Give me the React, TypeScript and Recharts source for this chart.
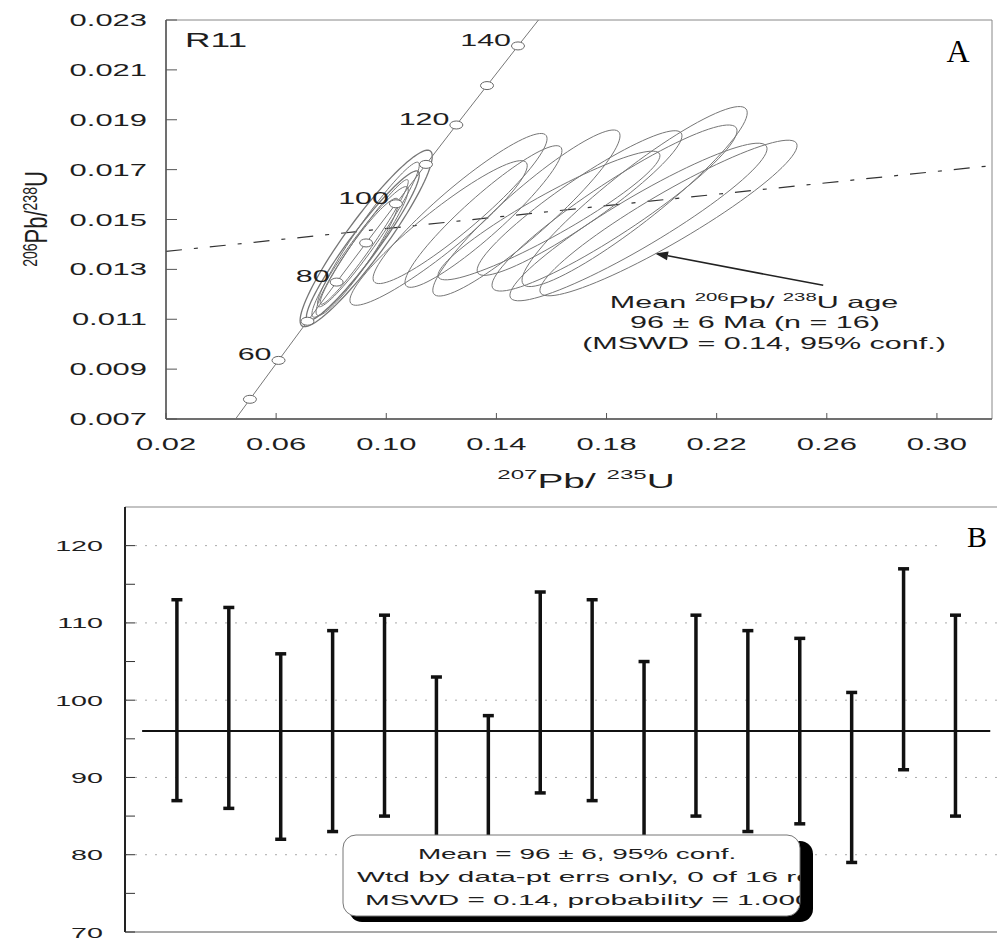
import React from 'react';
import { ScatterChart, Scatter, XAxis, YAxis, ReferenceLine, ReferenceArea, ErrorBar } from 'recharts';

const SANS = '"Liberation Sans", Arial, Helvetica, sans-serif';
const SERIF = '"Liberation Serif", "Times New Roman", serif';
const INK = '#1e1e1e';

// ---- panel A : concordia diagram ----
// concordia points (age in Ma, 207Pb/235U, 206Pb/238U)
const concordiaAges = [45, 50, 60, 70, 80, 90, 100, 110, 120, 130, 140, 147];
const concordiaX = [0.04532, 0.05048, 0.06087, 0.07137, 0.08198, 0.09268, 0.1035, 0.11442, 0.12545, 0.13659, 0.14784, 0.15578];
const concordiaY = [0.00701, 0.00779, 0.00935, 0.01092, 0.01249, 0.01406, 0.01563, 0.01721, 0.01879, 0.02037, 0.02196, 0.02307];
const labelledAges = [60, 80, 100, 120, 140];

// error ellipses: centre, half widths (2 sigma) and correlation
const ellX = [0.0927, 0.0915, 0.0905, 0.0935, 0.0895, 0.092, 0.119, 0.1268, 0.1353, 0.1509, 0.1591, 0.1702, 0.1829, 0.1902, 0.1916, 0.2025];
const ellY = [0.01424, 0.01395, 0.0137, 0.0144, 0.0135, 0.0141, 0.01446, 0.01544, 0.01512, 0.01526, 0.01516, 0.01566, 0.01546, 0.01592, 0.0149, 0.01506];
const ellSX = [0.024, 0.0205, 0.0175, 0.0185, 0.015, 0.016, 0.0322, 0.0316, 0.0285, 0.034, 0.0403, 0.0372, 0.0445, 0.0409, 0.0467, 0.0467];
const ellSY = [0.00354, 0.003, 0.00262, 0.0029, 0.00235, 0.0025, 0.0029, 0.00301, 0.00284, 0.00333, 0.00258, 0.0029, 0.00333, 0.00361, 0.00316, 0.00312];
const ellRho = [0.93, 0.95, 0.95, 0.96, 0.94, 0.97, 0.93, 0.93, 0.93, 0.93, 0.93, 0.93, 0.93, 0.93, 0.93, 0.93];

const mixLineX = [0.02, 0.32];
const mixLineY = [0.01372, 0.01716];
const arrowX = [0.2587, 0.1976];
const arrowY = [0.01236, 0.01364];

const xTicksA = [0.02, 0.06, 0.1, 0.14, 0.18, 0.22, 0.26, 0.3];
const yTicksA = [0.007, 0.009, 0.011, 0.013, 0.015, 0.017, 0.019, 0.021, 0.023];

// ---- panel B : weighted mean ----
const spotNo = [1, 2, 3, 4, 5, 6, 7, 8, 9, 10, 11, 12, 13, 14, 15, 16];
const spotAge = [100, 99, 94, 96, 98, 90.5, 86.5, 101, 100, 93, 98, 96, 96, 90, 104, 98];
const spotErr = [13, 13, 12, 13, 13, 12.5, 11.5, 13, 13, 12, 13, 13, 12, 11, 13, 13];
const meanAge = 96;
const meanLineX = [0.33, 16.67];
const yTicksB = [70, 75, 80, 85, 90, 95, 100, 105, 110, 115, 120];
const gridB = [80, 90, 100, 110, 120];

const concordiaLine = concordiaAges.map((t, i) => ({ x: concordiaX[i], y: concordiaY[i] }));
const markers = concordiaAges
  .map((t, i) => ({ x: concordiaX[i], y: concordiaY[i], label: labelledAges.includes(t) ? String(t) : '', t }))
  .filter((d) => d.t >= 50 && d.t <= 140);

const outline = (i: number) => {
  const pts = [];
  const r = Math.sqrt(1 - ellRho[i] * ellRho[i]);
  for (let k = 0; k <= 90; k++) {
    const a = (k / 90) * Math.PI * 2;
    pts.push({
      x: ellX[i] + ellSX[i] * Math.cos(a),
      y: ellY[i] + ellSY[i] * (ellRho[i] * Math.cos(a) + r * Math.sin(a)),
    });
  }
  return pts;
};

const spots = spotNo.map((n, i) => ({ x: n, y: spotAge[i], err: spotErr[i] }));

const NoDot = () => <g />;

const Marker = (p: any) => (
  <g>
    <ellipse cx={p.cx} cy={p.cy} rx={6.5} ry={4} fill="#fff" stroke="#666" strokeWidth={1} />
    {p.payload.label ? (
      <text transform={`translate(${p.cx - 7},${p.cy}) scale(1.9,1)`} textAnchor="end" fontSize={16} fontFamily={SANS} fill={INK}>
        {p.payload.label}
      </text>
    ) : null}
  </g>
);

const TickAY = (p: any) => (
  <text transform={`translate(${p.x},${p.y + 6}) scale(1.82,1)`} textAnchor="end" fontSize={17} fontFamily={SANS} fill={INK}>
    {Number(p.payload.value).toFixed(3)}
  </text>
);

const TickAX = (p: any) => (
  <text transform={`translate(${p.x},${p.y}) scale(1.82,1)`} textAnchor="middle" fontSize={17} fontFamily={SANS} fill={INK}>
    {Number(p.payload.value).toFixed(2)}
  </text>
);

const TickB = (p: any) =>
  p.payload.value % 10 === 0 ? (
    <text transform={`translate(${p.x},${p.y + 5.5}) scale(1.85,1)`} textAnchor="end" fontSize={15.5} fontFamily={SANS} fill={INK}>
      {p.payload.value}
    </text>
  ) : (
    <g />
  );

const Arrow = (p: any) => {
  const { x1, y1, x2, y2 } = p;
  const ang = Math.atan2(y2 - y1, x2 - x1);
  const L = 13;
  const W = 4.5;
  const bx = x2 - L * Math.cos(ang);
  const by = y2 - L * Math.sin(ang);
  const nx = -Math.sin(ang) * W;
  const ny = Math.cos(ang) * W;
  return (
    <g>
      <line x1={x1} y1={y1} x2={bx} y2={by} stroke="#222" strokeWidth={1.6} />
      <polygon points={`${x2},${y2} ${bx + nx},${by + ny} ${bx - nx},${by - ny}`} fill="#222" />
    </g>
  );
};

function Wide({ x, y, size, anchor = 'middle', sx = 1.85, children }: any) {
  return (
    <text transform={`translate(${x},${y}) scale(${sx},1)`} textAnchor={anchor} fontSize={size} fontFamily={SANS} fill={INK}>
      {children}
    </text>
  );
}

export default function App() {
  return (
    <div style={{ position: 'absolute', left: 0, top: 0, width: 997, height: 941, background: '#fff', overflow: 'hidden' }}>
      <div style={{ position: 'absolute', left: 0, top: 0 }}>
        <ScatterChart width={997} height={500} margin={{ top: 20, right: 5, bottom: 0, left: 0 }}>
          <XAxis
            type="number"
            dataKey="x"
            domain={[0.02, 0.32]}
            allowDataOverflow
            ticks={xTicksA}
            interval={0}
            height={81}
            tickSize={-6}
            tickMargin={37}
            tick={TickAX}
            tickLine={{ stroke: '#555' }}
            axisLine={{ stroke: '#555', strokeWidth: 1.5 }}
          />
          <YAxis
            type="number"
            dataKey="y"
            domain={[0.007, 0.023]}
            allowDataOverflow
            ticks={yTicksA}
            interval={0}
            width={166}
            tickSize={-11}
            tickMargin={30}
            tick={TickAY}
            tickLine={{ stroke: '#555' }}
            axisLine={{ stroke: '#555', strokeWidth: 1.5 }}
          />
          <ReferenceArea x1={0.02} x2={0.32} y1={0.007} y2={0.023} fill="none" fillOpacity={0} stroke="#888" strokeWidth={1} />
          {ellX.map((_, i) => (
            <Scatter
              key={i}
              data={outline(i)}
              fill="#767676"
              line={{ stroke: '#767676', strokeWidth: i < 2 ? 1.3 : 1 }}
              shape={NoDot}
              isAnimationActive={false}
            />
          ))}
          <ReferenceLine
            segment={[
              { x: mixLineX[0], y: mixLineY[0] },
              { x: mixLineX[1], y: mixLineY[1] },
            ]}
            stroke="#333"
            strokeWidth={1.2}
            strokeDasharray="16 12 4 12"
          />
          <ReferenceLine
            segment={[
              { x: arrowX[0], y: arrowY[0] },
              { x: arrowX[1], y: arrowY[1] },
            ]}
            shape={Arrow}
          />
          <Scatter data={concordiaLine} fill="#777" line={{ stroke: '#777', strokeWidth: 1 }} shape={NoDot} isAnimationActive={false} />
          <Scatter data={markers} fill="#fff" shape={Marker} isAnimationActive={false} />
        </ScatterChart>
      </div>

      <div style={{ position: 'absolute', left: 0, top: 500 }}>
        <ScatterChart width={997} height={441} margin={{ top: 7, right: 0, bottom: 0, left: 0 }}>
          <XAxis
            type="number"
            dataKey="x"
            domain={[0, 16.8]}
            allowDataOverflow
            tick={false}
            tickLine={false}
            height={9}
            axisLine={{ stroke: '#555', strokeWidth: 1.2 }}
          />
          <YAxis
            type="number"
            dataKey="y"
            domain={[70, 125]}
            allowDataOverflow
            ticks={yTicksB}
            interval={0}
            width={125}
            tickSize={-10}
            tickMargin={32}
            tick={TickB}
            tickLine={{ stroke: '#333' }}
            axisLine={{ stroke: '#222', strokeWidth: 2 }}
          />
          <ReferenceLine y={125} stroke="#888" strokeWidth={1.2} />
          {gridB.map((v) => (
            <ReferenceLine key={v} y={v} stroke="#aaa" strokeWidth={1} strokeDasharray="2 8" />
          ))}
          <ReferenceLine
            segment={[
              { x: meanLineX[0], y: meanAge },
              { x: meanLineX[1], y: meanAge },
            ]}
            stroke="#111"
            strokeWidth={2}
          />
          <Scatter data={spots} fill="#111" shape={NoDot} isAnimationActive={false}>
            <ErrorBar dataKey="err" direction="y" width={5.5} stroke="#111" strokeWidth={3.5} isAnimationActive={false} />
          </Scatter>
        </ScatterChart>
      </div>

      <svg width={997} height={941} style={{ position: 'absolute', left: 0, top: 0, pointerEvents: 'none' }}>
        <defs>
          <clipPath id="boxClip">
            <rect x={343} y={835} width={457} height={82} />
          </clipPath>
        </defs>

        {/* panel A texts */}
        <text transform="translate(47,219) rotate(-90) scale(1,1.45)" textAnchor="middle" fontFamily={SANS} fill={INK}>
          <tspan fontSize={14} dy={-7}>206</tspan>
          <tspan fontSize={22} dy={7}>Pb/</tspan>
          <tspan fontSize={14} dy={-7}>238</tspan>
          <tspan fontSize={22} dy={7}>U</tspan>
        </text>
        <text transform="translate(586,488) scale(1.85,1)" textAnchor="middle" fontFamily={SANS} fill={INK}>
          <tspan fontSize={13} dy={-9}>207</tspan>
          <tspan fontSize={21} dy={9}>Pb/ </tspan>
          <tspan fontSize={13} dy={-9}>235</tspan>
          <tspan fontSize={21} dy={9}>U</tspan>
        </text>
        <Wide x={185} y={47} size={20.5} anchor="start" sx={1.72}>R11</Wide>
        <text x={958} y={62} textAnchor="middle" fontSize={32} fontFamily={SERIF} fill="#000">A</text>

        <text transform="translate(754,308) scale(1.85,1)" textAnchor="middle" fontFamily={SANS} fill={INK}>
          <tspan fontSize={16.5}>Mean </tspan>
          <tspan fontSize={11} dy={-7}>206</tspan>
          <tspan fontSize={16.5} dy={7}>Pb/ </tspan>
          <tspan fontSize={11} dy={-7}>238</tspan>
          <tspan fontSize={16.5} dy={7}>U age</tspan>
        </text>
        <Wide x={755} y={328} size={16.5}>96 ± 6 Ma (n = 16)</Wide>
        <Wide x={764} y={349} size={16.5}>(MSWD = 0.14, 95% conf.)</Wide>

        {/* panel B texts */}
        <rect x={944} y={512} width={53} height={45} fill="#fff" />
        <text x={977} y={547} textAnchor="middle" fontSize={30} fontFamily={SERIF} fill="#000">B</text>

        <rect x={349} y={841} width={464} height={81} rx={13} fill="#000" />
        <rect x={343} y={835} width={457} height={81} rx={13} fill="#fff" stroke="#777" strokeWidth={1} />
        <g clipPath="url(#boxClip)">
          <Wide x={577} y={859} size={15.5} sx={1.8}>Mean = 96 ± 6,  95% conf.</Wide>
          <Wide x={357} y={882} size={15.5} sx={1.92} anchor="start">Wtd by data-pt errs only, 0 of 16 rej.</Wide>
          <Wide x={365} y={905} size={15.5} sx={1.92} anchor="start">MSWD = 0.14, probability = 1.000</Wide>
        </g>
      </svg>
    </div>
  );
}
